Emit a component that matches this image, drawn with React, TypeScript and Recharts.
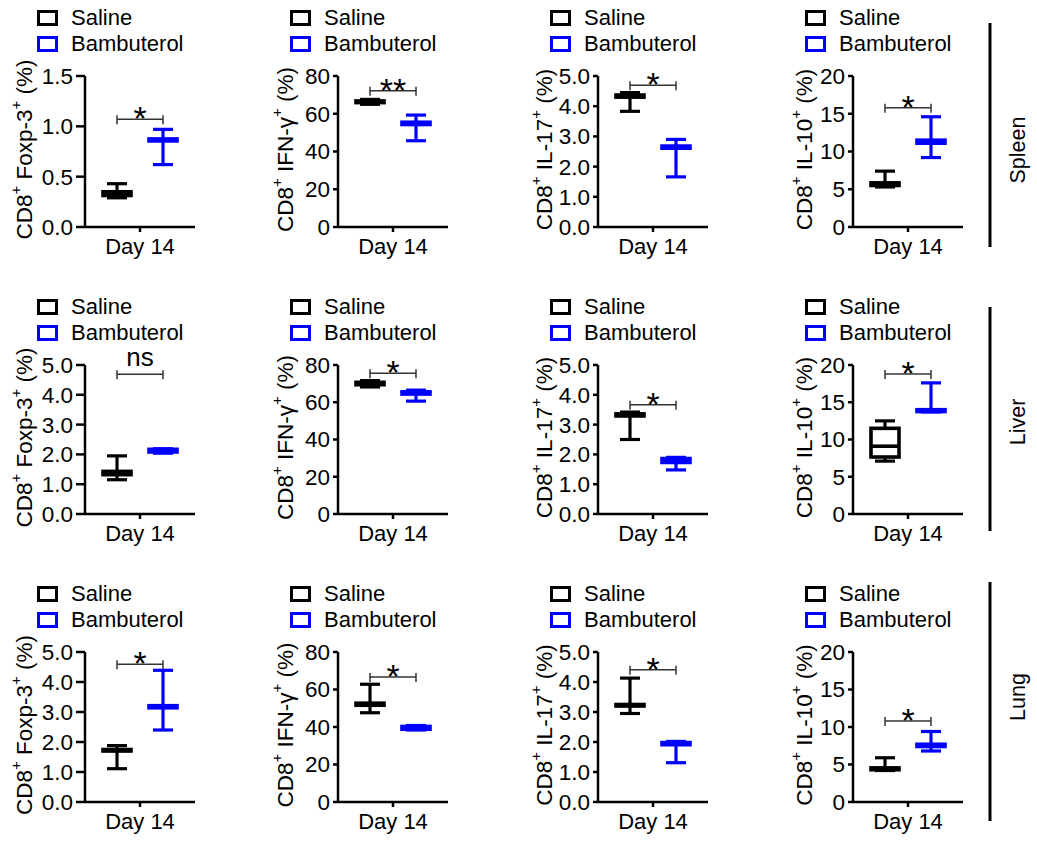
import { Bar, ComposedChart, Legend, ReferenceLine, XAxis, YAxis } from "recharts"

const FONT = "'Liberation Sans', Arial, Helvetica, sans-serif"

const groups = ["Saline", "Bambuterol"]
const groupColors = ["#000000", "#0000ff"]
const tissues = ["Spleen", "Liver", "Lung"]
const markers = ["Foxp-3", "IFN-γ", "IL-17", "IL-10"]
const dayLabel = "Day 14"

// box stats per marker: [min, q1, median, q3, max]
const spleenSaline = [
  [0.29, 0.313, 0.33, 0.35, 0.43],
  [65.0, 65.9, 66.3, 66.8, 67.6],
  [3.83, 4.3, 4.34, 4.37, 4.45],
  [5.3, 5.5, 5.7, 5.85, 7.4],
]
const spleenBambuterol = [
  [0.62, 0.855, 0.865, 0.875, 0.97],
  [45.7, 54.3, 54.9, 55.5, 59.3],
  [1.66, 2.61, 2.65, 2.68, 2.9],
  [9.2, 11.1, 11.3, 11.5, 14.6],
]
const liverSaline = [
  [1.15, 1.32, 1.38, 1.43, 1.95],
  [68.2, 69.4, 70.0, 70.7, 71.6],
  [2.5, 3.29, 3.33, 3.36, 3.42],
  [7.1, 7.65, 9.1, 11.5, 12.5],
]
const liverBambuterol = [
  [2.04, 2.08, 2.12, 2.17, 2.19],
  [60.6, 64.4, 65.0, 65.6, 66.5],
  [1.48, 1.73, 1.8, 1.86, 1.9],
  [13.7, 13.75, 13.9, 14.0, 17.6],
]
const lungSaline = [
  [1.11, 1.7, 1.72, 1.75, 1.88],
  [47.6, 51.6, 52.2, 52.7, 62.8],
  [2.95, 3.2, 3.22, 3.25, 4.13],
  [4.2, 4.3, 4.4, 4.55, 5.9],
]
const lungBambuterol = [
  [2.4, 3.14, 3.18, 3.21, 4.39],
  [38.4, 38.8, 39.6, 40.3, 40.8],
  [1.31, 1.91, 1.95, 1.98, 2.02],
  [6.8, 7.4, 7.55, 7.7, 9.4],
]

// y-axis ticks
const spleenTicks = [[0, 0.5, 1, 1.5], [0, 20, 40, 60, 80], [0, 1, 2, 3, 4, 5], [0, 5, 10, 15, 20]]
const liverTicks = [[0, 1, 2, 3, 4, 5], [0, 20, 40, 60, 80], [0, 1, 2, 3, 4, 5], [0, 5, 10, 15, 20]]
const lungTicks = [[0, 1, 2, 3, 4, 5], [0, 20, 40, 60, 80], [0, 1, 2, 3, 4, 5], [0, 5, 10, 15, 20]]
const tickDecimals = [1, 0, 1, 0]

// significance marks and the level of their brackets
const spleenSig = ["*", "**", "*", "*"]
const spleenSigY = [1.07, 72.2, 4.69, 15.8]
const liverSig = ["ns", "*", "*", "*"]
const liverSigY = [4.69, 75.6, 3.67, 18.8]
const lungSig = ["*", "*", "*", "*"]
const lungSigY = [4.59, 66.7, 4.41, 10.8]

const salineByTissue = [spleenSaline, liverSaline, lungSaline]
const bambByTissue = [spleenBambuterol, liverBambuterol, lungBambuterol]
const ticksByTissue = [spleenTicks, liverTicks, lungTicks]
const sigByTissue = [spleenSig, liverSig, lungSig]
const sigYByTissue = [spleenSigY, liverSigY, lungSigY]

// layout
const colAxisX = [85, 338, 598, 853]
const rowPlotTop = [76, 365, 652]
const rowPlotBottom = [227, 514, 802]
const labelDx = [-61, -53, -54, -49]
const yTickLen = [9, 5, 5, 5]
const tissueLine = [[23, 247], [307, 531], [582, 821]]
const tissueLabelY = [150, 422, 697]

const AXIS_LEFT = 80
const PLOT_W = 110
const TOP_SPACE = 76
const X_AXIS_H = 44

function BoxShape(props: any) {
  const { x, y, width, height, payload } = props
  const [mn, q1, md, q3, mx] = payload.stats
  const color = payload.color
  const span = mx - mn
  const toY = (v: number) => (span === 0 ? y : y + (height * (mx - v)) / span)
  const cx = x + width / 2
  const cap = 10
  return (
    <g stroke={color} strokeWidth={3.2} fill="none">
      <line x1={cx} x2={cx} y1={toY(mx)} y2={toY(q3)} />
      <line x1={cx} x2={cx} y1={toY(q1)} y2={toY(mn)} />
      <line x1={cx - cap} x2={cx + cap} y1={toY(mx)} y2={toY(mx)} />
      <line x1={cx - cap} x2={cx + cap} y1={toY(mn)} y2={toY(mn)} />
      <rect
        x={x}
        y={toY(q3)}
        width={width}
        height={Math.max(toY(q1) - toY(q3), 0.5)}
        fill="#fff"
        strokeWidth={3.6}
      />
      <line x1={x} x2={x + width} y1={toY(md)} y2={toY(md)} strokeWidth={3.6} />
    </g>
  )
}

const bracketShape = (sig: string) => (props: any) => {
  const { x1, x2, y1 } = props
  const isNs = sig === "ns"
  return (
    <g>
      <line x1={x1} x2={x2} y1={y1} y2={y1} stroke="#333" strokeWidth={1.5} />
      <line x1={x1} x2={x1} y1={y1 - 4} y2={y1 + 5} stroke="#333" strokeWidth={1.5} />
      <line x1={x2} x2={x2} y1={y1 - 4} y2={y1 + 5} stroke="#333" strokeWidth={1.5} />
      <text
        x={(x1 + x2) / 2}
        y={isNs ? y1 - 8 : y1 + 11}
        textAnchor="middle"
        fontSize={isNs ? 26 : 34}
        fontFamily={FONT}
        fill="#000"
      >
        {sig}
      </text>
    </g>
  )
}

function LegendBox() {
  return (
    <div style={{ fontFamily: FONT, fontSize: 22, color: "#000" }}>
      {groups.map((g, i) => (
        <div key={g} style={{ display: "flex", alignItems: "center", height: 26, whiteSpace: "nowrap" }}>
          <span
            style={{
              display: "inline-block",
              width: 15,
              height: 10,
              border: `3px solid ${groupColors[i]}`,
              marginRight: 13,
            }}
          />
          {g}
        </div>
      ))}
    </div>
  )
}

function YLabel({ viewBox, marker, dx, plotH }: any) {
  const vb = viewBox || { x: 0, y: TOP_SPACE, width: AXIS_LEFT, height: plotH }
  const cx = vb.x + vb.width + dx
  const cy = vb.y + vb.height / 2 - 2
  return (
    <text
      x={cx}
      y={cy}
      transform={`rotate(-90 ${cx} ${cy})`}
      textAnchor="middle"
      dominantBaseline="central"
      fontSize={22.5}
      fontFamily={FONT}
      fill="#000"
      style={{ whiteSpace: "pre" }}
    >
      <tspan>CD8</tspan>
      <tspan fontSize={15} dy={-9}>+</tspan>
      <tspan dy={9}>{" " + marker}</tspan>
      <tspan fontSize={15} dy={-9}>+</tspan>
      <tspan dy={9}>{" (%)"}</tspan>
    </text>
  )
}

function Panel({ row, col }: { row: number; col: number }) {
  const plotH = rowPlotBottom[row] - rowPlotTop[row]
  const stats = [salineByTissue[row][col], bambByTissue[row][col]]
  const data = groups.map((g, i) => ({
    group: g,
    day: dayLabel,
    stats: stats[i],
    range: [stats[i][0], stats[i][4]],
    color: groupColors[i],
  }))
  const ticks = ticksByTissue[row][col]
  const dec = tickDecimals[col]
  const sig = sigByTissue[row][col]
  const sigY = sigYByTissue[row][col]
  const axisStyle = { stroke: "#000", strokeWidth: 2.5 }

  return (
    <div style={{ position: "absolute", left: colAxisX[col] - AXIS_LEFT, top: rowPlotTop[row] - TOP_SPACE }}>
      <ComposedChart
        width={AXIS_LEFT + PLOT_W + 30}
        height={TOP_SPACE + plotH + X_AXIS_H}
        data={data}
        margin={{ top: TOP_SPACE, right: 30, bottom: 0, left: 0 }}
        style={{ fontFamily: FONT }}
      >
        <XAxis xAxisId="cat" dataKey="group" orientation="top" hide padding={{ left: 9, right: 9 }} />
        <XAxis
          xAxisId="day"
          dataKey="day"
          allowDuplicatedCategory={false}
          height={X_AXIS_H}
          tickSize={5}
          tickMargin={6}
          axisLine={axisStyle}
          tickLine={axisStyle}
          tick={{ fill: "#000", fontSize: 22, fontFamily: FONT }}
        />
        <YAxis
          width={AXIS_LEFT}
          domain={[0, ticks[ticks.length - 1]]}
          ticks={ticks}
          interval={0}
          allowDataOverflow
          tickSize={yTickLen[col]}
          tickMargin={3}
          axisLine={axisStyle}
          tickLine={axisStyle}
          tick={{ fill: "#000", fontSize: 22.5, fontFamily: FONT }}
          tickFormatter={(v: number) => v.toFixed(dec)}
          label={{
            content: (p: any) => <YLabel viewBox={p.viewBox} marker={markers[col]} dx={labelDx[col]} plotH={plotH} />,
          }}
        />
        <Legend
          verticalAlign="middle"
          align="center"
          layout="horizontal"
          wrapperStyle={{ top: 5, left: 32, width: "auto" }}
          content={() => <LegendBox />}
        />
        <Bar xAxisId="cat" dataKey="range" barSize={28} shape={BoxShape} isAnimationActive={false} />
        <ReferenceLine
          xAxisId="cat"
          segment={[
            { x: groups[0], y: sigY },
            { x: groups[1], y: sigY },
          ]}
          shape={bracketShape(sig)}
        />
      </ComposedChart>
    </div>
  )
}

export default function App() {
  return (
    <div style={{ position: "absolute", left: 0, top: 0, width: 1037, height: 841, background: "#fff" }}>
      {tissues.map((_, r) => markers.map((__, c) => <Panel key={`${r}-${c}`} row={r} col={c} />))}
      <svg width={1037} height={841} style={{ position: "absolute", left: 0, top: 0, pointerEvents: "none" }}>
        {tissues.map((t, i) => (
          <g key={t}>
            <line x1={990} x2={990} y1={tissueLine[i][0]} y2={tissueLine[i][1]} stroke="#000" strokeWidth={3} />
            <text
              x={1025}
              y={tissueLabelY[i]}
              transform={`rotate(-90 1025 ${tissueLabelY[i]})`}
              textAnchor="middle"
              fontSize={21.5}
              fontFamily={FONT}
              fill="#000"
            >
              {t}
            </text>
          </g>
        ))}
      </svg>
    </div>
  )
}
